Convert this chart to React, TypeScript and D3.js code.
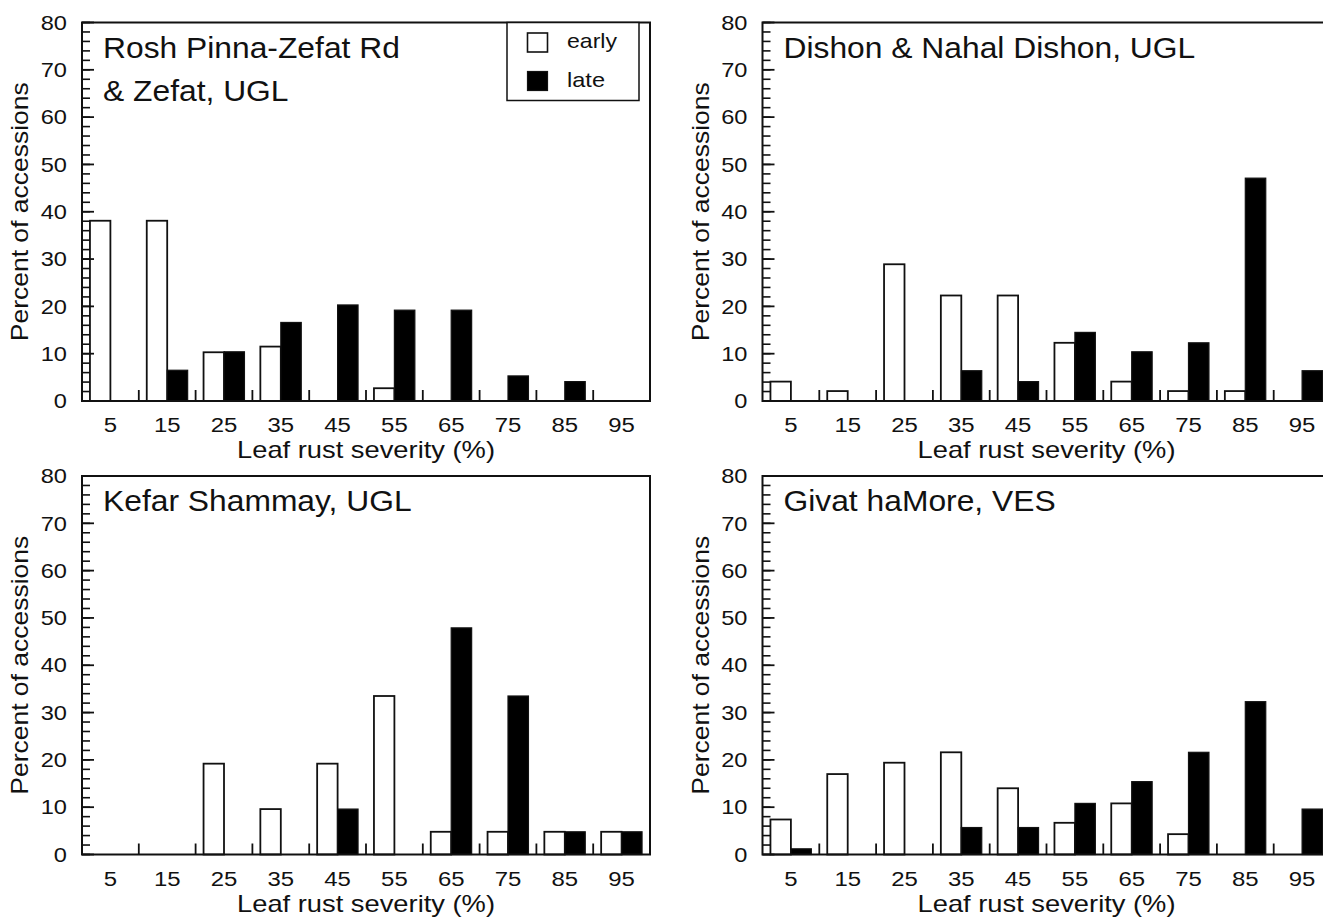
import React from "react";
import * as d3 from "d3";

// ---- data ----
const categories = [5, 15, 25, 35, 45, 55, 65, 75, 85, 95];
const xTickValues = [10, 20, 30, 40, 50, 60, 70, 80, 90];
const yTickValues = [0, 10, 20, 30, 40, 50, 60, 70, 80];
const xTitle = "Leaf rust severity (%)";
const yTitle = "Percent of accessions";
const legendLabels = ["early", "late"];

const roshTitle = ["Rosh Pinna-Zefat Rd", "& Zefat, UGL"];
const roshEarly = [38.1, 38.1, 10.3, 11.5, 0, 2.7, 0, 0, 0, 0];
const roshLate = [0, 6.5, 10.4, 16.6, 20.3, 19.2, 19.2, 5.3, 4.1, 0];

const dishonTitle = ["Dishon & Nahal Dishon, UGL"];
const dishonEarly = [4.1, 2.1, 28.9, 22.3, 22.3, 12.3, 4.1, 2.1, 2.1, 0];
const dishonLate = [0, 0, 0, 6.4, 4.1, 14.5, 10.4, 12.3, 47.1, 6.4];

const kefarTitle = ["Kefar Shammay, UGL"];
const kefarEarly = [0, 0, 19.2, 9.6, 19.2, 33.5, 4.8, 4.8, 4.8, 4.8];
const kefarLate = [0, 0, 0, 0, 9.6, 0, 47.9, 33.5, 4.8, 4.8];

const givatTitle = ["Givat haMore, VES"];
const givatEarly = [7.4, 17.0, 19.4, 21.6, 14.0, 6.7, 10.8, 4.3, 0, 0];
const givatLate = [1.2, 0, 0, 5.7, 5.7, 10.8, 15.4, 21.6, 32.3, 9.6];

// ---- layout ----
const PW = 568;
const PH = 378.5;
const FONT = "'Liberation Sans', Arial, Helvetica, sans-serif";
const INK = "#111";

const x = d3.scaleLinear().domain([0, 100]).range([0, PW]);
const y = d3.scaleLinear().domain([0, 80]).range([PH, 0]);
const yMinor = y.ticks(40);
const BAR = 3.6; // bar width in x units

function SText({ x, y, sx = 1, size, anchor = "start", children, dy }: any) {
  return (
    <text
      transform={`translate(${x},${y}) scale(${sx},1)`}
      fontSize={size}
      fontFamily={FONT}
      textAnchor={anchor}
      fill={INK}
      dy={dy}
    >
      {children}
    </text>
  );
}

function Panel({ left, top, title, early, late, legend }: any) {
  return (
    <g transform={`translate(${left},${top})`}>
      {/* bars */}
      {categories.map((c, i) =>
        early[i] > 0 ? (
          <rect
            key={"e" + c}
            x={x(c - BAR)}
            y={y(early[i])}
            width={x(c) - x(c - BAR)}
            height={y(0) - y(early[i])}
            fill="#fff"
            stroke={INK}
            strokeWidth={1.8}
          />
        ) : null
      )}
      {categories.map((c, i) =>
        late[i] > 0 ? (
          <rect
            key={"l" + c}
            x={x(c)}
            y={y(late[i])}
            width={x(c + BAR) - x(c)}
            height={y(0) - y(late[i])}
            fill="#000"
            stroke={INK}
            strokeWidth={1.2}
          />
        ) : null
      )}
      {/* y ticks */}
      {yMinor.map((v) => (
        <line key={"ym" + v} x1={0} x2={8} y1={y(v)} y2={y(v)} stroke={INK} strokeWidth={1.6} />
      ))}
      {yTickValues.map((v) => (
        <line key={"yM" + v} x1={0} x2={12} y1={y(v)} y2={y(v)} stroke={INK} strokeWidth={1.8} />
      ))}
      {yTickValues.map((v) => (
        <SText key={"yl" + v} x={-15} y={y(v)} dy="0.36em" size={20} sx={1.18} anchor="end">
          {v}
        </SText>
      ))}
      {/* x ticks */}
      {xTickValues.map((v) => (
        <line key={"xt" + v} x1={x(v)} x2={x(v)} y1={PH} y2={PH - 11} stroke={INK} strokeWidth={1.8} />
      ))}
      {categories.map((c) => (
        <SText key={"xl" + c} x={x(c)} y={PH + 31} size={21} sx={1.14} anchor="middle">
          {c}
        </SText>
      ))}
      {/* frame */}
      <rect x={0} y={0} width={PW} height={PH} fill="none" stroke={INK} strokeWidth={2} />
      {/* axis titles */}
      <text
        x={x(50)}
        y={PH + 57}
        fontSize={24}
        fontFamily={FONT}
        textAnchor="middle"
        fill={INK}
        textLength={258}
        lengthAdjust="spacingAndGlyphs"
      >
        {xTitle}
      </text>
      <text
        transform={`translate(-54,${PH / 2}) rotate(-90)`}
        fontSize={24}
        fontFamily={FONT}
        textAnchor="middle"
        fill={INK}
        textLength={259}
        lengthAdjust="spacingAndGlyphs"
      >
        {yTitle}
      </text>
      {/* panel title */}
      {title.map((t: string, i: number) => (
        <SText key={"t" + i} x={21} y={35 + i * 43} size={30} sx={1.06}>
          {t}
        </SText>
      ))}
      {legend ? (
        <g>
          <rect x={425} y={0} width={132} height={78} fill="#fff" stroke={INK} strokeWidth={1.5} />
          <rect x={445.5} y={10.5} width={20} height={19} fill="#fff" stroke={INK} strokeWidth={1.6} />
          <rect x={445.5} y={49} width={20} height={19} fill="#000" stroke={INK} strokeWidth={1.2} />
          <text x={485} y={25.5} fontSize={21} fontFamily={FONT} fill={INK} textLength={50} lengthAdjust="spacingAndGlyphs">
            {legendLabels[0]}
          </text>
          <text x={485} y={64} fontSize={21} fontFamily={FONT} fill={INK} textLength={38} lengthAdjust="spacingAndGlyphs">
            {legendLabels[1]}
          </text>
        </g>
      ) : null}
    </g>
  );
}

export default function App() {
  return (
    <svg
      width={1323}
      height={917}
      style={{ position: "absolute", left: 0, top: 0, background: "#fff" }}
    >
      <rect x={0} y={0} width={1323} height={917} fill="#fff" />
      <Panel left={82} top={22.5} title={roshTitle} early={roshEarly} late={roshLate} legend />
      <Panel left={762.5} top={22.5} title={dishonTitle} early={dishonEarly} late={dishonLate} />
      <Panel left={82} top={476} title={kefarTitle} early={kefarEarly} late={kefarLate} />
      <Panel left={762.5} top={476} title={givatTitle} early={givatEarly} late={givatLate} />
    </svg>
  );
}
